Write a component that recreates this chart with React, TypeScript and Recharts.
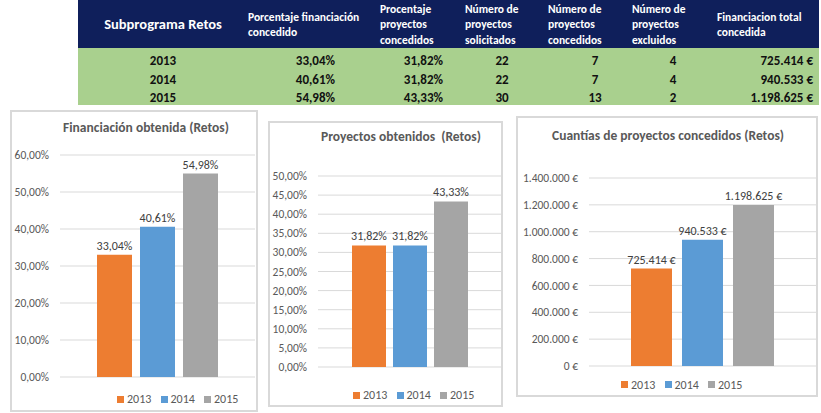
import React from 'react';
import { BarChart, Bar, XAxis, YAxis, CartesianGrid, LabelList, Legend } from 'recharts';

// ---------- data ----------
const years = ['2013', '2014', '2015'];
const seriesColors = ['#ED7D31', '#5B9BD5', '#A5A5A5'];
const financiacionPct = [33.04, 40.61, 54.98];
const proyectosPct = [31.82, 31.82, 43.33];
const solicitados = [22, 22, 30];
const concedidos = [7, 7, 13];
const excluidos = [4, 4, 2];
const cuantias = [725414, 940533, 1198625];
const pctTicksA = [0, 10, 20, 30, 40, 50, 60];
const pctTicksB = [0, 5, 10, 15, 20, 25, 30, 35, 40, 45, 50];
const eurTicks = [0, 200000, 400000, 600000, 800000, 1000000, 1200000, 1400000];
const headerLabels = [
  'Subprograma Retos',
  'Porcentaje financiación|concedido',
  'Procentaje|proyectos|concedidos',
  'Número de|proyectos|solicitados',
  'Número de|proyectos|concedidos',
  'Número de|proyectos|excluidos',
  'Financiacion total|concedida',
];

const FONT = 'Carlito, Lato, sans-serif';

const fmtPct = (v: number) => v.toFixed(2).replace('.', ',') + '%';
const fmtEur = (v: number) => String(v).replace(/\B(?=(\d{3})+(?!\d))/g, '.') + '\u00A0€';

// ---------- table ----------
const headerCols = [
  { left: 90, width: 146, align: 'center', size: 14.5 },
  { left: 248, width: 130, align: 'left', size: 11.5 },
  { left: 380, width: 70, align: 'left', size: 11.5 },
  { left: 465, width: 70, align: 'left', size: 11.5 },
  { left: 548, width: 70, align: 'left', size: 11.5 },
  { left: 632, width: 70, align: 'left', size: 11.5 },
  { left: 717, width: 100, align: 'left', size: 11.5 },
];

const rowCols = [
  { left: 113, width: 100, align: 'center' },
  { left: 235, width: 100, align: 'right' },
  { left: 343, width: 100, align: 'right' },
  { left: 472, width: 60, align: 'center' },
  { left: 565, width: 60, align: 'center' },
  { left: 643, width: 60, align: 'center' },
  { left: 713, width: 100, align: 'right' },
];

const Table = () => {
  const rows = years.map((y, i) => [
    y,
    fmtPct(financiacionPct[i]),
    fmtPct(proyectosPct[i]),
    String(solicitados[i]),
    String(concedidos[i]),
    String(excluidos[i]),
    fmtEur(cuantias[i]),
  ]);
  return (
    <>
      <div style={{ position: 'absolute', left: 78, top: 0, width: 741, height: 48, background: '#0F1F5B' }} />
      <div style={{ position: 'absolute', left: 78, top: 48, width: 741, height: 57, background: '#A9D08E' }} />
      {headerLabels.map((h, i) => (
        <div
          key={i}
          style={{
            position: 'absolute',
            left: headerCols[i].left,
            width: headerCols[i].width,
            top: 0,
            height: 50,
            display: 'flex',
            alignItems: 'center',
            justifyContent: headerCols[i].align === 'center' ? 'center' : 'flex-start',
            textAlign: headerCols[i].align as any,
            color: '#FFFFFF',
            fontWeight: 700,
            fontSize: headerCols[i].size,
            lineHeight: '15.5px',
            fontFamily: FONT,
            whiteSpace: 'nowrap',
          }}
        >
          <div>
            {h.split('|').map((line, k) => (
              <div key={k}>{line}</div>
            ))}
          </div>
        </div>
      ))}
      {rows.map((r, ri) =>
        r.map((cell, ci) => (
          <div
            key={ri + '-' + ci}
            style={{
              position: 'absolute',
              left: rowCols[ci].left,
              width: rowCols[ci].width,
              top: 52 + ri * 18.5,
              height: 18,
              lineHeight: '18px',
              textAlign: rowCols[ci].align as any,
              fontWeight: 700,
              fontSize: 13,
              color: '#111111',
              fontFamily: FONT,
            }}
          >
            {cell}
          </div>
        ))
      )}
    </>
  );
};

// ---------- charts ----------
type PanelProps = {
  box: { left: number; top: number; right: number; bottom: number };
  title: string;
  titleCenter: number;
  titleY: number;
  values: number[];
  ticks: number[];
  fmt: (v: number) => string;
  marginTop: number;
  marginRight: number;
  yWidth: number;
  barSize: number;
  barGap: number;
  legendHeight: number;
  legendPadTop: number;
  legendLeft: number;
};

const makeLegend = (height: number, padTop: number, padLeft: number) => (props: any) => (
  <div
    style={{
      height,
      boxSizing: 'border-box',
      paddingTop: padTop,
      paddingLeft: padLeft,
      display: 'flex',
      fontFamily: FONT,
      fontSize: 12,
      lineHeight: '14px',
      color: '#595959',
    }}
  >
    {(props.payload || []).map((p: any) => (
      <div key={p.value} style={{ width: 43.5, display: 'flex', alignItems: 'center' }}>
        <span style={{ display: 'inline-block', width: 7, height: 7, background: p.color, marginRight: 3 }} />
        <span>{p.value}</span>
      </div>
    ))}
  </div>
);

const Panel = (p: PanelProps) => {
  const width = p.box.right - p.box.left;
  const height = p.box.bottom - p.box.top;
  const data = [
    Object.fromEntries([['name', 'Retos'], ...years.map((y, i) => [y, p.values[i]])]),
  ];
  return (
    <>
      <div
        style={{
          position: 'absolute',
          left: p.box.left,
          top: p.box.top,
          width,
          height,
          boxSizing: 'border-box',
          border: '2px solid #D9D9D9',
          background: '#FFFFFF',
        }}
      />
      <div
        style={{
          position: 'absolute',
          left: p.titleCenter - 150,
          width: 300,
          top: p.titleY - 9,
          height: 18,
          lineHeight: '18px',
          textAlign: 'center',
          fontFamily: FONT,
          fontWeight: 700,
          fontSize: 13.5,
          color: '#595959',
          whiteSpace: 'pre',
        }}
      >
        {p.title}
      </div>
      <div style={{ position: 'absolute', left: p.box.left, top: p.box.top }}>
        <BarChart
          width={width}
          height={height}
          data={data}
          margin={{ top: p.marginTop, right: p.marginRight, left: 0, bottom: 0 }}
          barGap={p.barGap}
        >
          <CartesianGrid vertical={false} stroke="#D9D9D9" strokeWidth={1} />
          <XAxis dataKey="name" hide />
          <YAxis
            type="number"
            domain={[0, p.ticks[p.ticks.length - 1]]}
            ticks={p.ticks}
            interval={0}
            tickFormatter={p.fmt}
            axisLine={false}
            tickLine={false}
            tickSize={0}
            tickMargin={11}
            width={p.yWidth}
            tick={{ fill: '#595959', fontSize: 11.5, fontFamily: FONT }}
          />
          <Legend
            verticalAlign="bottom"
            content={makeLegend(p.legendHeight, p.legendPadTop, p.legendLeft)}
            wrapperStyle={{ left: 0, bottom: 0, width }}
          />
          {years.map((y, i) => (
            <Bar key={y} dataKey={y} name={y} fill={seriesColors[i]} barSize={p.barSize} isAnimationActive={false}>
              <LabelList
                dataKey={y}
                position="top"
                formatter={(v: any) => p.fmt(Number(v))}
                style={{ fill: '#404040', fontSize: 12, fontFamily: FONT }}
              />
            </Bar>
          ))}
        </BarChart>
      </div>
    </>
  );
};

export default function App() {
  return (
    <div style={{ position: 'absolute', left: 0, top: 0, width: 821, height: 413, background: '#FFFFFF', overflow: 'hidden' }}>
      <Table />
      <Panel
        box={{ left: 10, top: 110, right: 258, bottom: 412 }}
        title="Financiación obtenida (Retos)"
        titleCenter={146}
        titleY={128}
        values={financiacionPct}
        ticks={pctTicksA}
        fmt={fmtPct}
        marginTop={45}
        marginRight={3}
        yWidth={50}
        barSize={35}
        barGap={8}
        legendHeight={35}
        legendPadTop={9}
        legendLeft={107}
      />
      <Panel
        box={{ left: 268, top: 121, right: 503, bottom: 407 }}
        title="Proyectos obtenidos  (Retos)"
        titleCenter={401}
        titleY={137}
        values={proyectosPct}
        ticks={pctTicksB}
        fmt={fmtPct}
        marginTop={55}
        marginRight={2}
        yWidth={50}
        barSize={34}
        barGap={7}
        legendHeight={40}
        legendPadTop={16}
        legendLeft={85}
      />
      <Panel
        box={{ left: 516, top: 116, right: 818, bottom: 397 }}
        title="Cuantías de proyectos concedidos (Retos)"
        titleCenter={668}
        titleY={136}
        values={cuantias}
        ticks={eurTicks}
        fmt={fmtEur}
        marginTop={62}
        marginRight={2}
        yWidth={73}
        barSize={41}
        barGap={10}
        legendHeight={31}
        legendPadTop={6}
        legendLeft={105}
      />
    </div>
  );
}
